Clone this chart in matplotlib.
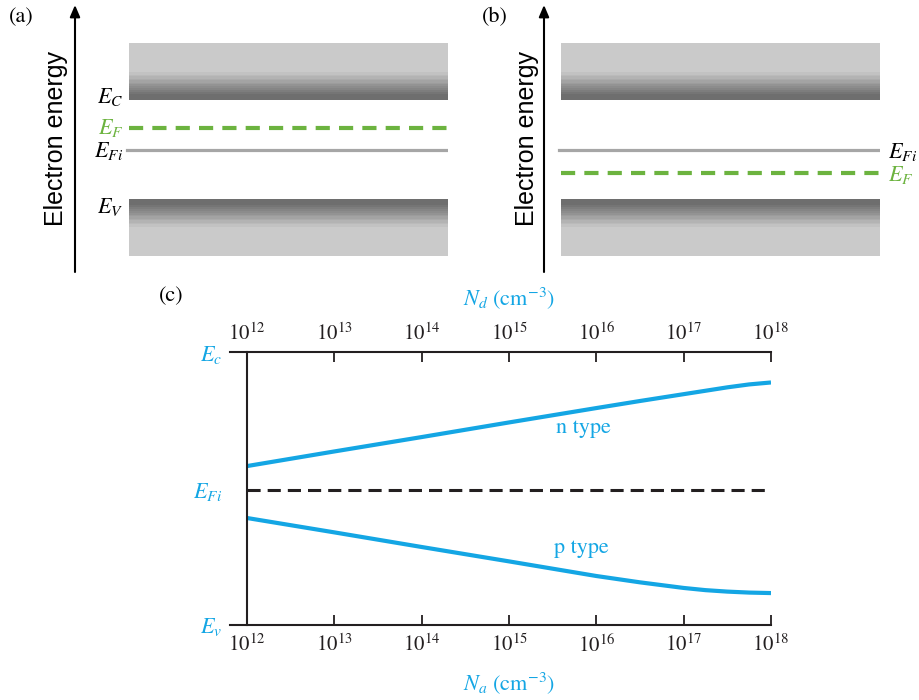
import numpy as np
import matplotlib
matplotlib.use("Agg")
import matplotlib.pyplot as plt
from matplotlib import transforms
from matplotlib.ticker import FixedLocator, NullLocator

plt.rcParams['mathtext.fontset'] = 'stix'

W, H = 919, 700
BLUE = '#14a6e4'
GREEN = '#6cb33f'
GRAY = '#a6a6a6'
INK = '#231f20'

# band diagram levels (eV above the valence band edge)
E_v = 0.0
E_c = 1.12
E_Fi_band = 0.561
E_F_ntype = 0.808
E_F_ptype = 0.304
band_depth = 0.624
axis_range = (-0.802, 2.173)

# Fermi level position vs. doping concentration
log_N = [12, 13, 14, 15, 16, 16.5, 17, 17.25, 17.5, 17.75, 18]
E_F_n = [0.652, 0.712, 0.771, 0.831, 0.890, 0.919, 0.947, 0.961, 0.975, 0.987, 0.995]
E_F_p = [0.439, 0.380, 0.320, 0.261, 0.201, 0.175, 0.152, 0.143, 0.137, 0.133, 0.131]
E_Fi = 0.554
decades = [12, 13, 14, 15, 16, 17, 18]
tick_labels = [r'$10^{%d}$' % d for d in decades]


def px_axes(fig, x0, y0, x1, y1):
    return fig.add_axes([x0 / W, 1 - y1 / H, (x1 - x0) / W, (y1 - y0) / H])


def band_shade(n=300):
    # 0 at the band edge, 1 deep inside the band
    t = np.linspace(0, 1, n)
    ramp = np.clip((t - 0.08) / 0.42, 0, 1)
    ramp = np.round(ramp * 12) / 12
    return 0.43 + (0.79 - 0.43) * ramp


def shift(ax, dy_px):
    return ax.transData + transforms.ScaledTranslation(0, -dy_px / 100, ax.figure.dpi_scale_trans)


def band_panel(ax, x_band, E_F, labels, letter_xy, letter):
    shade = band_shade()
    ax.imshow(shade[:, None], cmap='gray', vmin=0, vmax=1, origin='lower', aspect='auto',
              extent=[x_band, 1, E_c, E_c + band_depth], interpolation='nearest')
    ax.imshow(shade[::-1, None], cmap='gray', vmin=0, vmax=1, origin='lower', aspect='auto',
              extent=[x_band, 1, E_v - band_depth, E_v], interpolation='nearest')
    ax.axhline(E_Fi_band, xmin=x_band - 0.005, xmax=1, color=GRAY, lw=2.3)
    ax.axhline(E_F, xmin=x_band, xmax=1, color=GREEN, lw=3, dashes=(3.4, 2.2))
    ax.set_xlim(0, 1)
    ax.set_ylim(*axis_range)
    ax.axis('off')
    ax.annotate('', xy=(0, 1), xytext=(0, 0), xycoords='axes fraction',
                arrowprops=dict(arrowstyle='-|>,head_length=0.7,head_width=0.3',
                                lw=1.5, color='k', shrinkA=0, shrinkB=0))
    ax.text(-0.05, 0.5, 'Electron energy', transform=ax.transAxes, rotation=90,
            ha='center', va='center', fontsize=18, family='Liberation Sans')
    for x, y, s, color, ha, dy in labels:
        ax.text(x, y, s, color=color, ha=ha, va='center', fontsize=16,
                transform=shift(ax, dy), clip_on=False)
    fig.text(letter_xy[0] / W, 1 - letter_xy[1] / H, letter, ha='center', va='center',
             fontsize=16, family='STIXGeneral')


fig = plt.figure(figsize=(W / 100, H / 100), dpi=100)

# (a) n-type
ax_a = px_axes(fig, 75, 5, 448, 272)
band_panel(ax_a, 0.145, E_F_ntype, [
    (0.129, E_c, r'$E_C$', 'k', 'right', -2.5),
    (0.129, E_F_ntype, r'$E_F$', GREEN, 'right', 0),
    (0.129, E_Fi_band, r'$E_{Fi}$', 'k', 'right', 1),
    (0.129, E_v, r'$E_V$', 'k', 'right', 6.5),
], (21, 17), '(a)')

# (b) p-type
ax_b = px_axes(fig, 544, 5, 880, 272)
band_panel(ax_b, 0.0506, E_F_ptype, [
    (1.024, E_Fi_band, r'$E_{Fi}$', 'k', 'left', 2.7),
    (1.024, E_F_ptype, r'$E_F$', GREEN, 'left', 2.3),
], (495, 17), '(b)')

# (c) Fermi level vs doping
ax = px_axes(fig, 230, 352, 771, 625)
N = 10.0 ** np.array(log_N)
ax.plot(N, E_F_n, color=BLUE, lw=3, solid_capstyle='butt')
ax.plot(N, E_F_p, color=BLUE, lw=3, solid_capstyle='butt')
ax.plot([1e12, 1e18], [E_Fi, E_Fi], color=INK, lw=2.2, dashes=(4.3, 2.3))

ax.set_xscale('log')
ax.set_xlim(10 ** (12 - 17 / 87.33), 1e18)
ax.set_ylim(E_v, E_c)
ax.spines['right'].set_visible(False)
ax.spines['left'].set_position(('data', 1e12))
for side in ['left', 'top', 'bottom']:
    ax.spines[side].set_linewidth(1.5)
    ax.spines[side].set_color(INK)

ax.xaxis.set_major_locator(FixedLocator([10.0 ** d for d in decades]))
ax.xaxis.set_minor_locator(NullLocator())
ax.set_xticklabels(tick_labels)
ax.tick_params(axis='x', direction='in', length=7, width=1.3, color=INK,
               top=True, bottom=True, labeltop=True, labelbottom=True,
               labelsize=15, labelcolor=INK, pad=6)

ax.set_yticks([E_v, E_Fi, E_c])
ax.set_yticklabels([r'$E_v$', r'$E_{Fi}$', r'$E_c$'])
ax.tick_params(axis='y', length=0, pad=18, labelsize=16, labelcolor=BLUE)

ax.text(0.516, 1.198, r'$N_d\ (\mathrm{cm}^{-3})$', transform=ax.transAxes, ha='center',
        va='center', fontsize=16, color=BLUE)
ax.text(0.516, -0.2125, r'$N_a\ (\mathrm{cm}^{-3})$', transform=ax.transAxes, ha='center',
        va='center', fontsize=16, color=BLUE)
ax.text(10 ** 15.85, 0.808, 'n type', ha='center', va='center', fontsize=16,
        color=BLUE, family='STIXGeneral')
ax.text(10 ** 15.83, 0.316, 'p type', ha='center', va='center', fontsize=16,
        color=BLUE, family='STIXGeneral')
fig.text(171 / W, 1 - 296 / H, '(c)', ha='center', va='center', fontsize=16, family='STIXGeneral')

fig.savefig('out.png', dpi=100)
